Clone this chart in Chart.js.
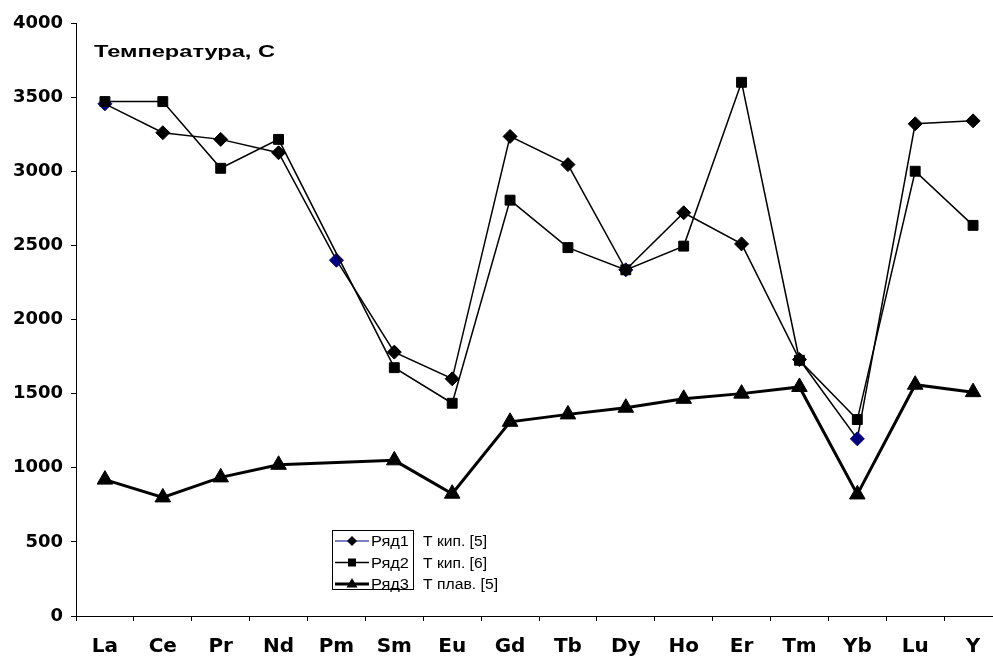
<!DOCTYPE html>
<html>
<head>
<meta charset="utf-8">
<script src="https://cdn.jsdelivr.net/npm/chart.js@4/dist/chart.umd.min.js"></script>
<style>
  html, body { margin: 0; padding: 0; background: #fff; overflow: hidden; }
  #wrap { position: absolute; left: 0; top: 0; width: 1012px; height: 657px; }
</style>
</head>
<body>
<div id="wrap"><canvas id="chart"></canvas></div>
<script>
// Rare-earth elements on the category axis
const categories = ['La', 'Ce', 'Pr', 'Nd', 'Pm', 'Sm', 'Eu', 'Gd', 'Tb', 'Dy', 'Ho', 'Er', 'Tm', 'Yb', 'Lu', 'Y'];

// Boiling temperature, source [5]
const boilT5 = [3455, 3260, 3215, 3125, 2400, 1780, 1600, 3235, 3045, 2335, 2720, 2510, 1730, 1195, 3320, 3340];
// Boiling temperature, source [6] (no value for Pm)
const boilT6 = [3470, 3470, 3020, 3215, null, 1675, 1435, 2805, 2485, 2335, 2495, 3600, 1725, 1325, 3000, 2635];
// Melting temperature, source [5] (no value for Pm)
const meltT5 = [920, 800, 935, 1020, null, 1050, 825, 1310, 1360, 1405, 1465, 1500, 1545, 820, 1560, 1510];

// Series names and their captions
const seriesNames = ['Ряд1', 'Ряд2', 'Ряд3'];
const seriesCaptions = ['Т кип. [5]', 'Т кип. [6]', 'Т плав. [5]'];
const axisTitle = 'Температура, С';

// Elements whose [5] boiling point is drawn with a navy marker
const navyElements = ['La', 'Pm', 'Dy', 'Yb'];

const NAVY = '#000080';
const boilT5Colors = categories.map(c => navyElements.includes(c) ? NAVY : '#000');

function stretchText(ctx, text, x, y, font, width) {
  ctx.save();
  ctx.font = font;
  const w = ctx.measureText(text).width;
  ctx.translate(x, y);
  ctx.scale(width / w, 1);
  ctx.textAlign = 'left';
  ctx.textBaseline = 'alphabetic';
  ctx.fillStyle = '#000';
  ctx.fillText(text, 0, 0);
  ctx.restore();
}

// Axis caption and the boxed legend with its source captions
const annotations = {
  id: 'annotations',
  afterDraw(chart) {
    const ctx = chart.ctx;
    const area = chart.chartArea;
    stretchText(ctx, axisTitle, area.left + 18, 57, 'bold 16px "Liberation Sans", Arial, sans-serif', 181);

    const bx = 332, by = 530, bw = 81, bh = 59;
    ctx.save();
    ctx.fillStyle = '#fff';
    ctx.fillRect(bx, by, bw, bh);
    ctx.strokeStyle = '#000';
    ctx.lineWidth = 1;
    ctx.strokeRect(bx + 0.5, by + 0.5, bw, bh);

    const rows = [541, 562.5, 584];
    const lineStyles = [{ c: NAVY, w: 1 }, { c: '#000', w: 1.5 }, { c: '#000', w: 3 }];
    const font = '14px "Liberation Sans", Arial, sans-serif';
    rows.forEach((ry, i) => {
      ctx.beginPath();
      ctx.strokeStyle = lineStyles[i].c;
      ctx.lineWidth = lineStyles[i].w;
      ctx.moveTo(335, ry);
      ctx.lineTo(369, ry);
      ctx.stroke();
      ctx.fillStyle = '#000';
      ctx.beginPath();
      const mx = 352;
      if (i === 0) {
        ctx.moveTo(mx, ry - 5); ctx.lineTo(mx + 5, ry); ctx.lineTo(mx, ry + 5); ctx.lineTo(mx - 5, ry);
      } else if (i === 1) {
        ctx.rect(mx - 4, ry - 4, 8, 8);
      } else {
        ctx.moveTo(mx, ry - 6); ctx.lineTo(mx + 5.5, ry + 3.5); ctx.lineTo(mx - 5.5, ry + 3.5);
      }
      ctx.closePath();
      ctx.fill();
      stretchText(ctx, seriesNames[i], 371, ry + 5, font, 38);
    });
    stretchText(ctx, seriesCaptions[0], 423, 546, font, 64);
    stretchText(ctx, seriesCaptions[1], 423, 567.5, font, 64);
    stretchText(ctx, seriesCaptions[2], 423, 589, font, 75);
    ctx.restore();
  }
};

new Chart(document.getElementById('chart'), {
  type: 'line',
  data: {
    labels: categories,
    datasets: [
      {
        label: seriesNames[0],
        data: boilT5,
        order: 2,
        borderColor: '#000',
        borderWidth: 1.5,
        pointStyle: 'rectRot',
        pointRadius: 7,
        pointBackgroundColor: boilT5Colors,
        pointBorderColor: boilT5Colors,
        pointBorderWidth: 1,
        tension: 0
      },
      {
        label: seriesNames[1],
        data: boilT6,
        order: 1,
        spanGaps: true,
        borderColor: '#000',
        borderWidth: 1.5,
        pointStyle: 'rect',
        pointRadius: 7,
        pointBackgroundColor: '#000',
        pointBorderColor: '#000',
        pointBorderWidth: 1,
        tension: 0
      },
      {
        label: seriesNames[2],
        data: meltT5,
        order: 0,
        spanGaps: true,
        borderColor: '#000',
        borderWidth: 3,
        pointStyle: 'triangle',
        pointRadius: 9,
        pointBackgroundColor: '#000',
        pointBorderColor: '#000',
        pointBorderWidth: 1,
        tension: 0
      }
    ]
  },
  options: {
    responsive: true,
    maintainAspectRatio: false,
    animation: false,
    events: [],
    layout: { padding: { top: 23, right: 9, left: 0, bottom: 0 } },
    plugins: {
      legend: { display: false },
      tooltip: { enabled: false },
      title: { display: false }
    },
    scales: {
      x: {
        offset: true,
        grid: { offset: true, drawOnChartArea: false, drawTicks: true, tickLength: 5, color: '#000', lineWidth: 1 },
        border: { display: true, color: '#000', width: 1 },
        ticks: {
          color: '#000',
          padding: 14,
          maxRotation: 0,
          autoSkip: false,
          font: { family: '"DejaVu Sans", sans-serif', weight: 'bold', size: 20 }
        },
        afterFit(scale) { scale.height = 41; }
      },
      y: {
        min: 0,
        max: 4000,
        grid: { drawOnChartArea: false, drawTicks: true, tickLength: 5, color: '#000', lineWidth: 1 },
        border: { display: true, color: '#000', width: 1 },
        ticks: {
          stepSize: 500,
          color: '#000',
          padding: 8,
          callback: v => String(v),
          font: { family: '"DejaVu Sans", sans-serif', weight: 'bold', size: 18 }
        },
        afterFit(scale) { scale.width = 76; }
      }
    }
  },
  plugins: [annotations]
});
</script>
</body>
</html>
